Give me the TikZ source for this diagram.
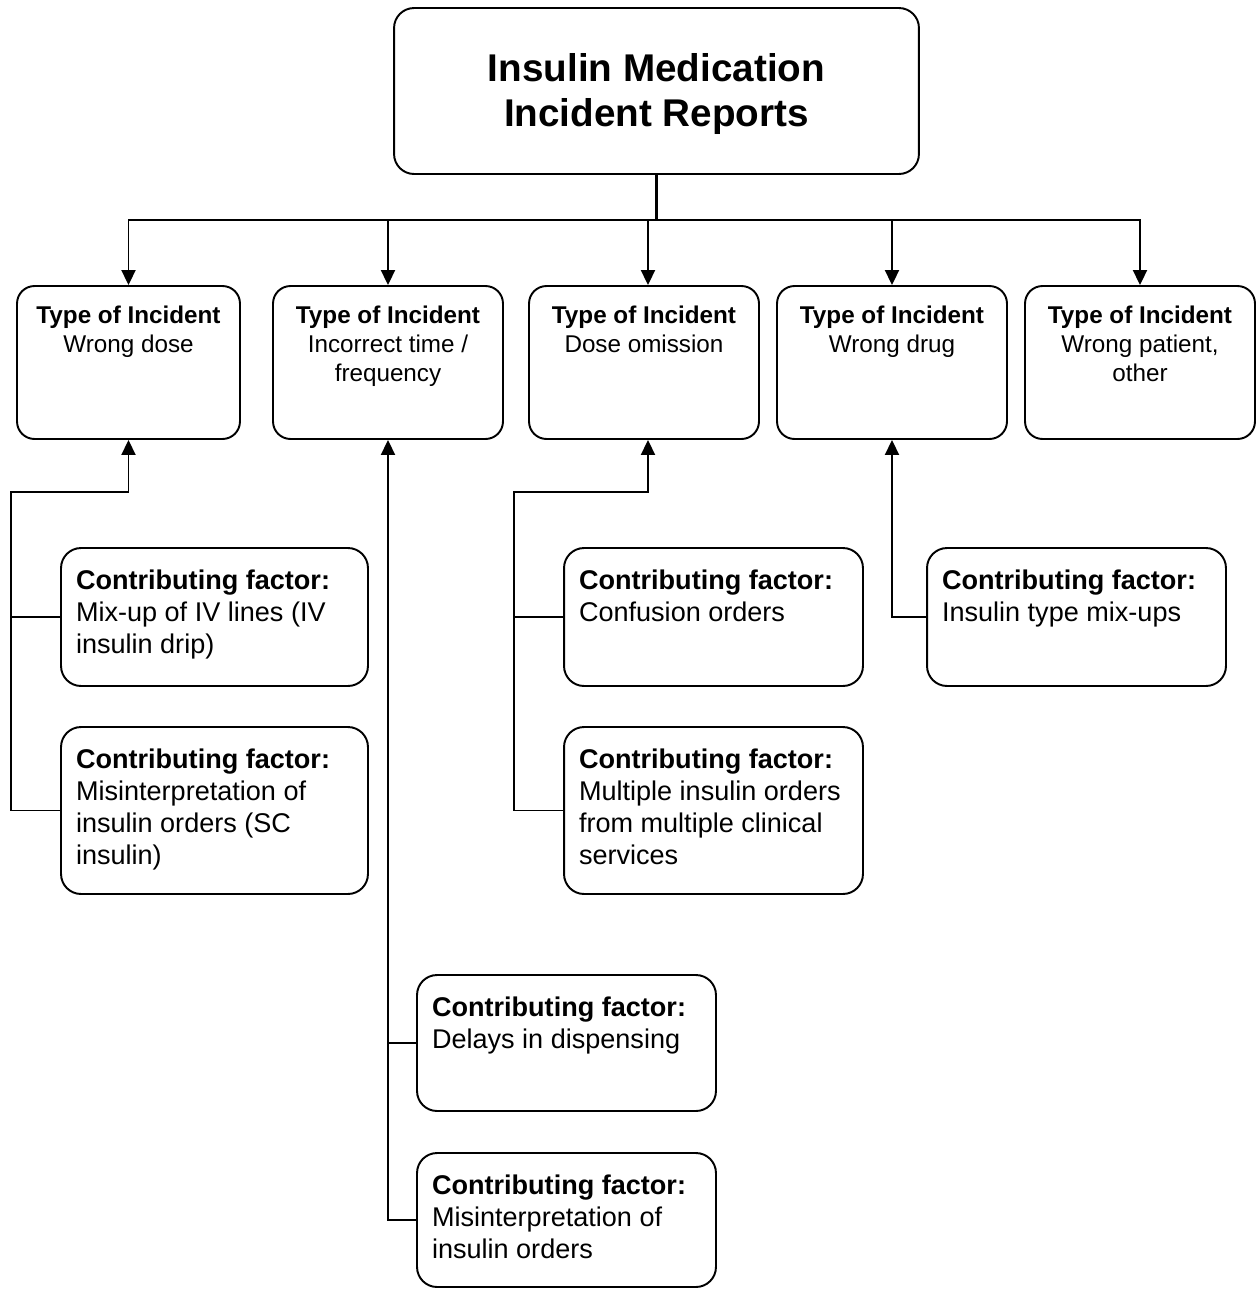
\documentclass[tikz,border=0pt]{standalone}
\usepackage{fontspec}
\setmainfont{Liberation Sans}
\usepackage{tikz}
\usetikzlibrary{arrows.meta}
\newcommand{\boxtext}[3]{\parbox[t][#2][t]{#1}{#3}}

\begin{document}
\begin{tikzpicture}[x=0.02cm,y=-0.02cm,
  every node/.style={line width=1.1pt},
  headbox/.style={draw, rounded corners=0.4cm, minimum width=10.5cm, minimum height=3.32cm, font=\fontsize{22}{25.6}\selectfont\bfseries},
  typebox/.style={draw, rounded corners=0.35cm, inner xsep=0.1cm, inner ysep=0.4cm, font=\fontsize{13.8}{16.4}\selectfont},
  factorbox/.style={draw, rounded corners=0.4cm, inner xsep=0.3cm, inner ysep=0.43cm, font=\fontsize{15.4}{18.2}\selectfont},
  link/.style={line width=1.1pt},
  arr/.style={link, -{Triangle[width=0.28cm,length=0.3cm]}}]
\useasboundingbox (0,0) rectangle (1258,1289);
% title
\node [headbox] (head) at (656.5,91) {\parbox[c][2.6cm][c]{10cm}{\vspace*{0.12cm}\centering Insulin Medication\\Incident Reports}};
% types of incident
\node [typebox] (t1) at (128.5,362.5) {\boxtext{4.26cm}{2.26cm}{\centering\textbf{Type of Incident}\\Wrong dose}};
\node [typebox] (t2) at (388,362.5) {\boxtext{4.4cm}{2.26cm}{\centering\textbf{Type of Incident}\\Incorrect time /\\frequency}};
\node [typebox] (t3) at (644,362.5) {\boxtext{4.4cm}{2.26cm}{\centering\textbf{Type of Incident}\\Dose omission}};
\node [typebox] (t4) at (892,362.5) {\boxtext{4.4cm}{2.26cm}{\centering\textbf{Type of Incident}\\Wrong drug}};
\node [typebox] (t5) at (1140,362.5) {\boxtext{4.4cm}{2.26cm}{\centering\textbf{Type of Incident}\\Wrong patient,\\other}};
% contributing factors
\node [factorbox] (f1) at (214.5,617) {\boxtext{5.54cm}{1.90cm}{\textbf{Contributing factor:}\\Mix-up of IV lines (IV\\insulin drip)}};
\node [factorbox] (f2) at (214.5,810.5) {\boxtext{5.54cm}{2.48cm}{\textbf{Contributing factor:}\\Misinterpretation of\\insulin orders (SC\\insulin)}};
\node [factorbox] (f3) at (713.5,617) {\boxtext{5.38cm}{1.90cm}{\textbf{Contributing factor:}\\Confusion orders}};
\node [factorbox] (f4) at (713.5,810.5) {\boxtext{5.38cm}{2.48cm}{\textbf{Contributing factor:}\\Multiple insulin orders\\from multiple clinical\\services}};
\node [factorbox] (f5) at (1076.5,617) {\boxtext{5.38cm}{1.90cm}{\textbf{Contributing factor:}\\Insulin type mix-ups}};
\node [factorbox] (f6) at (566.5,1043) {\boxtext{5.38cm}{1.86cm}{\textbf{Contributing factor:}\\Delays in dispensing}};
\node [factorbox] (f7) at (566.5,1220) {\boxtext{5.38cm}{1.82cm}{\textbf{Contributing factor:}\\Misinterpretation of\\insulin orders}};
% tree from the title
\coordinate (bus) at (656.5,220);
\draw [line width=1.6pt] (head.south) -- (bus);
\foreach \t in {t1,t2,t4,t5}
  \draw [arr] (bus) -| (\t.north);
\draw [arr] (bus) -| ([xshift=0.08cm]t3.north);
% factors up to their type
\coordinate (j1) at (11,492);
\coordinate (j3) at (514,492);
\draw [arr] (f2.west) -| (j1) -| (t1.south);
\draw [link] (f1.west) -- (f1.west -| j1);
\draw [arr] (f7.west) -| (t2.south);
\draw [link] (f6.west) -- (f6.west -| t2.south);
\draw [arr] (f4.west) -| (j3) -| ([xshift=0.08cm]t3.south);
\draw [link] (f3.west) -- (f3.west -| j3);
\draw [arr] (f5.west) -| (t4.south);
\end{tikzpicture}
\end{document}
